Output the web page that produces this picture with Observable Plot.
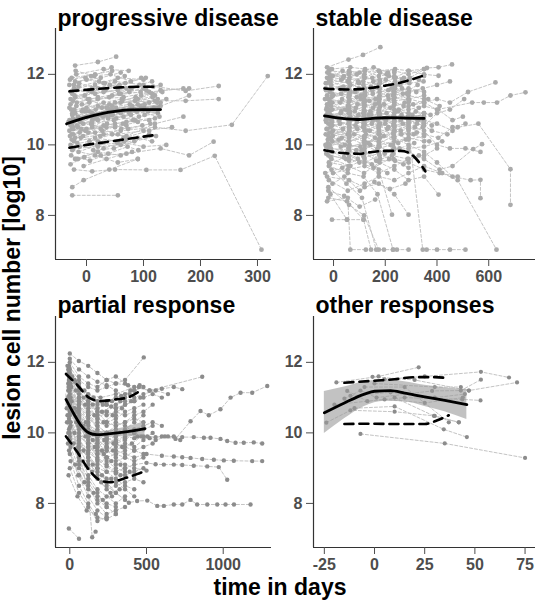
<!DOCTYPE html>
<html><head><meta charset="utf-8">
<script src="https://cdn.jsdelivr.net/npm/d3@7"></script>
<script src="https://cdn.jsdelivr.net/npm/@observablehq/plot@0.6"></script>
<style>
body{margin:0;background:#fff;}
#wrap{position:relative;width:540px;height:600px;overflow:hidden;font-family:"Liberation Sans",Arial,sans-serif;}
#wrap > svg{position:absolute;}
#wrap svg text{font-weight:bold;}
</style></head><body><div id="wrap"></div>
<script>
// ---------- data ----------
const titles = ["progressive disease","stable disease","partial response","other responses"];
const yLabel = "lesion cell number [log10]";
const xLabel = "time in days";
const yTicks = [8,10,12];
const pdTicks = [0,100,200,300];
const sdTicks = [0,200,400,600];
const prTicks = [0,500,1000];
const orTicks = [-25,0,25,50,75];

// trajectories: flat [t,y,t,y,...]
const pdTraj = [
[-25,8.57,55,8.57],[-25,8.8,-5,9.0,40,9.3,90,9.6],[-22,9.3,10,9.25,50,9.3,105,9.29,165,9.29,225,9.69,307,7.03],
[-20,12.25,20,12.35,52,12.5],[-18,12.0,30,12.15,74,12.1],[-28,11.3,10,11.5,50,11.8,100,11.7,174,11.53,232,11.67],
[-25,10.9,20,11.1,60,11.2,120,11.25,174,11.25,232,11.3],[-20,10.2,15,10.35,60,10.4,120,10.5,174,10.4,255,10.57,318,11.95],
[-15,9.6,25,9.7,70,9.75,130,9.9,180,9.7,223,10.09],[-30,10.7,0,10.8,40,11.0,80,11.1,130,11.2],
[-27,11.0,5,11.2,45,11.4,95,11.5],[-24,10.5,8,10.6,48,10.7,92,10.8,125,10.9],[-22,11.6,15,11.7,55,11.9,100,11.85],
[-26,10.3,10,10.5,50,10.6,85,10.7],[-20,11.8,25,11.9,60,12.05],[-28,10.0,5,10.1,45,10.3,90,10.2,115,10.1],
[-23,9.9,20,9.95,60,10.0,110,10.3],[-21,11.4,30,11.5,70,11.6,115,11.8],[-25,10.6,25,10.85,75,11.0,130,11.1,180,11.4],
[-18,11.1,20,11.3,65,11.35,110,11.5,170,11.6],[-30,10.4,0,10.45,35,10.5,70,10.55],[-15,10.8,30,10.9,80,11.05,125,11.3],
[-27,11.5,10,11.6,55,11.65],[-22,10.1,15,10.2,55,10.1,100,9.95,140,10.0],[-20,9.6,20,9.8,60,9.7],
[-26,11.9,15,12.0,45,12.1],[-24,10.75,5,10.95,40,11.15,85,11.25,120,11.4],[-12,10.35,30,10.55,70,10.65,110,10.7],
[-28,10.55,10,10.65,60,10.9,100,11.0],[-17,11.2,20,11.35,60,11.45,100,11.6,130,11.7],[-25,9.85,15,9.7,55,9.5,90,9.6],
[-20,10.9,15,10.75,55,10.95,95,11.1],[-22,11.0,0,11.05,30,11.2,62,11.3,110,11.2],[-15,10.5,25,10.45,55,10.3,100,10.4,150,10.5],
[-30,11.7,0,11.85,30,11.75],[-10,10.2,30,10.3,70,10.25,120,10.6,170,10.8],[-25,10.45,10,10.9,45,11.0,90,11.15,140,11.3],
[-20,10.7,10,10.55,50,10.5,90,10.65],[-28,11.15,5,11.3,40,11.35,75,11.5,115,11.45],[-23,10.3,20,10.1,70,10.15],
[-18,11.55,15,11.45,55,11.55,105,11.55],[-5,9.4,35,9.6,80,9.8],[-25,10.85,20,10.7,65,10.8,108,10.95],
[-20,11.35,45,11.1,90,11.3,130,11.55,180,11.6],[-12,9.95,25,10.05,65,10.2,110,10.4],
[-8,10.95,35,11.05,75,10.9,118,11.05],[-29,10.25,-2,10.4,38,10.75,78,10.85],[-14,11.65,22,11.8,58,11.7,96,11.9],
[-26,10.65,12,10.8,52,11.05,102,11.15],[-6,10.6,42,10.85,88,10.95,128,10.8],
[-29,11.85,8,11.95,42,12.0,78,11.8],[-16,10.05,12,9.85,48,9.9,84,10.1,122,10.25],[-24,11.25,-3,11.4,33,11.55,68,11.75,104,11.9],
[-11,10.65,18,10.8,52,10.75,88,10.95,126,11.05],[-27,9.7,6,9.55,38,9.75,72,9.95],[-19,12.1,14,11.95,44,12.2],
[-8,11.15,27,11.05,63,11.25,96,11.4,133,11.5],[-23,10.45,3,10.35,36,10.6,73,10.45,112,10.6],[-13,11.75,20,11.6,57,11.45,93,11.7],
[-28,9.45,-4,9.65,30,9.9,66,10.1],[-21,10.95,16,11.0,50,11.2,86,11.35,124,11.2],[-9,10.45,24,10.25,61,10.45,98,10.55],
[-25,11.45,2,11.3,37,11.05,76,11.15,116,11.35],[-17,10.55,10,10.7,46,10.85,82,10.7,120,10.75],[-2,11.9,32,11.75,67,11.95],
[-26,10.15,-6,10.25,28,10.4,64,10.6,102,10.85],[-14,9.8,19,10.0,54,10.05,91,9.85],[-22,11.7,5,11.55,41,11.7,79,11.6,117,11.65],
[-6,11.0,29,10.8,65,11.0,101,11.05],[-30,11.05,-1,10.95,34,10.85]
];
const sdTraj = [
[-20,10.6,60,10.5,120,10.7,178,10.6,232,10.8,290,10.7,350,10.9],[-5,11.2,62,11.3,118,11.1,175,11.2],
[-25,12.2,58,12.42,114,12.55,181,12.77],[-10,9.9,55,9.8,115,9.7,170,9.9,230,10.0],
[-30,11.6,65,11.7,120,11.6,180,11.8,240,11.7,295,11.9,361,12.18,406,12.2,458,12.28],
[-15,10.2,60,10.1,125,10.3,180,10.2,235,10.4,290,10.3,345,10.5,400,10.9,450,11.0,505,11.3],
[-8,9.3,50,8.9,110,8.5,165,7.03,230,7.03,290,7.03],[-20,8.5,52,8.4,116,7.88,145,7.03],[-6,7.88,52,7.88],
[-22,10.9,65,10.8,115,10.9,175,11.0,235,10.9,290,11.1,350,11.2,400,11.0,536,11.2,581,11.2,632,11.2,684,11.4,742,11.49],
[-12,11.9,60,12.0,120,11.9,175,12.1,235,12.1,290,12.0,350,12.15],
[-18,9.5,58,9.4,118,9.2,178,9.5,235,9.3,290,9.0,350,9.1,406,8.59],[-2,10.4,62,10.5,125,10.4,180,10.6],
[-28,11.0,55,11.1,118,11.3,175,11.2,230,11.4,290,11.5,345,11.6,400,11.7,450,11.8],
[-15,10.0,60,10.2,120,10.0,175,9.8,235,9.9],[-25,11.4,65,11.5,122,11.4,178,11.5,238,11.6,292,11.5],
[-8,10.7,58,10.6,115,10.5,170,10.7,232,10.6,288,10.8,348,10.6],[-20,9.7,60,9.6,120,9.8,180,9.6],
[-10,11.7,55,11.8,116,11.7],
[-30,10.3,62,10.4,120,10.2,175,10.4,235,10.2,290,10.0,350,9.8,400,9.5,460,9.1,530,9.0,568,9.01,568,8.49],
[-5,11.0,60,11.1,118,11.0,178,10.9,232,11.1,290,11.2],[-18,12.1,62,12.05,120,12.1,175,11.95,235,12.05],
[-25,9.1,60,9.0,120,8.8,175,8.9,235,8.6,290,8.02],
[-12,10.5,55,10.3,120,10.6,175,10.5,235,10.7,290,10.5,350,10.3,405,10.2,460,10.5,510,10.6],
[-22,11.3,58,11.2,118,11.3,178,11.4,232,11.3,290,11.4,350,11.3,410,11.1],
[-8,9.6,65,9.4,120,9.6,175,9.3,226,8.02],[-28,10.8,60,10.9,116,10.8,175,10.8,235,11.0,290,10.9,350,10.9],
[-15,11.5,62,11.4,120,11.6,178,11.6,238,11.8,295,11.85,350,11.95],
[-5,10.1,58,9.9,120,10.1,175,10.1,232,9.9,290,9.8,350,9.6,410,9.3,460,9.4,540,9.88,574,10.02],
[-20,8.8,60,8.3,118,8.0,175,7.03,195,7.03],[-10,11.1,55,11.0,118,11.2,175,11.3,235,11.2],
[-25,10.45,60,10.3,120,10.4,178,10.3,235,10.5,290,10.6,350,10.7,400,10.6,460,10.4],
[-15,12.0,62,11.9,122,12.1,180,12.05,240,11.9],
[-5,9.8,60,9.7,120,9.5,178,9.7,232,9.6,290,9.5,350,9.3,410,9.2,480,9.1],
[-30,10.7,60,10.75,118,10.6,175,10.9,235,10.8],
[-12,11.8,58,11.6,115,11.8,175,11.7,235,11.9,290,12.1,350,12.0,406,11.96],
[-22,10.15,62,10.0,120,9.9,175,10.0,235,10.1,290,10.2,350,10.1],[-8,11.35,60,11.45,122,11.5,178,11.3,232,11.5],
[-18,9.4,55,9.2,116,9.1,170,8.6,230,7.03,245,7.03],[-25,11.9,60,12.1,120,12.0],
[-5,10.55,62,10.65,118,10.75,175,10.55,235,10.4,290,10.55,350,10.4,400,10.0,450,9.9,510,9.9,568,9.8],
[-15,10.95,60,11.05,120,10.95,180,11.1,238,10.95,290,11.0,350,11.1,405,11.0,460,10.7,500,10.8],
[-28,9.95,58,10.1,118,10.2,175,10.3,232,10.2,290,10.4,345,7.03,360,7.03,400,7.03,450,7.03,510,7.03],
[-10,11.6,62,11.55,120,11.45,178,11.6,235,11.5,290,11.6,350,11.5],
[-20,10.25,60,10.45,118,10.55,175,10.45,232,10.3],
[-2,9.2,55,9.3,120,9.4,175,9.2,235,9.4,290,9.6,350,9.7,400,9.9],
[-25,11.15,62,11.25,120,11.15,178,11.05,235,11.25,290,11.3,350,11.4],
[-12,10.85,58,10.95,116,10.6,175,10.75,235,10.65,290,10.75,350,10.65],
[-30,11.75,60,11.85,120,11.9,178,11.85,235,11.95],
[-8,10.35,62,10.25,118,10.1,175,10.15,232,10.35,290,10.15,350,10.25],
[-18,9.0,55,8.7,120,8.9,175,9.1,235,9.0,290,9.2,350,9.4,420,9.2,480,9.0,630,7.03],
[-5,11.45,58,11.35,118,11.2,175,11.35,235,11.45,290,11.3,350,11.2,400,11.3,450,11.2,520,11.5,626,11.77],
[-22,10.05,60,9.95,120,10.05,178,9.95,232,9.75],[-15,11.25,62,10.9,120,11.1,175,10.95,235,11.15],
[-28,9.75,60,9.55,118,9.75,175,9.55,238,9.55,290,9.35],
[-10,12.15,65,12.2,122,12.15,175,12.1,238,12.15,290,12.1,350,12.15],
[-20,10.75,58,10.7,120,10.85,178,10.85,235,10.55,290,10.45,350,10.8],[-25,8.4,55,8.5,65,7.03,125,7.03],
[-6,10.65,60,10.6,118,10.5,175,10.35,232,10.55,290,10.65,350,10.55,380,10.4,440,10.3,480,10.5,560,10.6,684,9.31,684,8.3],
[-15,9.9,60,9.85,118,9.65,175,9.75,232,9.85,290,9.9,350,9.95,420,10.1],[-12,8.6,52,7.88,116,7.88],
[-26,11.05,64,10.95,121,11.25,177,11.15,236,11.35,292,11.25],[-3,10.25,59,10.35,119,10.25,176,10.05,234,10.25],
[-17,11.85,61,11.75,117,11.95,179,11.75,237,11.65,293,11.75,348,11.8],
[-33,11.3,30,11.45,90,11.35,150,11.55,210,11.4,265,11.6,320,11.5],[-27,10.45,25,10.6,85,10.55,140,10.4,200,10.6,260,10.4,315,10.5],
[-14,9.45,40,9.65,100,9.5,155,9.35,215,9.6,270,9.45,330,9.7],[-3,11.95,35,12.1,95,11.8,150,11.9,205,12.0,265,11.85],
[-31,10.0,20,10.15,80,10.3,135,10.05,195,10.25,250,10.05,310,10.3,370,10.1],
[-19,11.15,45,11.0,105,11.3,160,11.15,220,11.05,275,11.2,330,11.05],
[-7,10.8,30,10.95,90,10.65,145,10.85,205,10.9,260,10.7,318,10.95,375,10.85],
[-24,12.05,40,11.95,100,12.05,155,12.2,210,12.05],[-11,9.65,28,9.95,88,9.85,142,10.0,198,9.75,255,9.9,312,10.05],
[-29,11.55,38,11.65,98,11.75,152,11.45,212,11.55,268,11.45,325,11.7],
[-16,10.35,32,10.2,92,10.45,148,10.6,208,10.45,262,10.3,322,10.35],[-4,8.9,42,9.1,102,8.7,158,8.95,218,8.75,278,8.9],
[-21,11.0,26,11.2,86,11.05,138,11.25,196,11.15,252,11.0,308,11.15,366,11.3],
[-9,10.15,44,10.0,104,9.95,160,10.2,222,10.0,280,10.15],[-26,11.75,24,11.6,84,11.5,144,11.65,202,11.85,258,11.7],
[-13,10.6,36,10.45,96,10.85,152,10.7,212,10.5,268,10.6,326,10.7,380,10.55],[-32,9.2,34,9.35,94,9.6,148,9.45,208,9.2],
[-1,11.4,46,11.55,106,11.4,162,11.3,224,11.6,284,11.45],[-23,10.9,22,10.7,82,10.95,137,10.85,194,10.75,249,10.95,305,10.85],
[-17,9.85,48,9.6,108,9.85,165,9.55,226,9.7,286,9.6],[-6,12.15,30,11.85,90,12.0],
[-28,10.65,28,10.9,88,10.75,143,10.95,203,10.7,263,10.85,323,10.6],
[-12,11.85,38,11.9,98,11.6,154,11.8,214,11.95,272,11.9,330,11.85],[-20,8.7,41,8.55,101,8.25,161,8.45],
[-10,11.2,33,11.3,93,11.15,153,11.05,213,11.3,271,11.1]
];
const prTraj = [
[-10,11.8,60,11.0,120,10.5,180,10.2,240,10.0],[0,12.25,59,12.04,120,11.9,180,11.7,240,11.5,300,11.4,360,11.5,482,12.14],
[-6,7.29,60,7.0],[-15,10.5,59,9.5,124,8.2,146,7.04,168,7.2],
[-5,11.5,60,10.8,120,10.3,180,9.9,240,9.7,300,9.8,360,9.9,420,9.85,505,9.9,559,9.88,620,9.9,678,9.9,733,9.88,808,9.88,874,9.86,917,9.86,982,9.83,1026,9.77,1080,9.72,1134,9.72,1199,9.73,1254,9.7],
[0,10.8,60,9.9,120,9.2,180,8.8,240,8.5,300,8.3,385,8.02,439,8.07,505,8.08,570,7.93,613,7.93,678,7.97,733,7.97,787,8.1,830,7.97,896,7.97,961,7.97,1015,7.97,1070,7.97,1178,7.97],
[-10,11.2,55,10.7,120,10.2,180,9.8,240,9.6,300,9.5,360,9.4,420,9.3,500,9.4,600,9.35,678,9.33,733,9.31,787,9.29,863,9.26,939,9.24,1004,9.22,1069,9.21,1189,9.2,1254,9.2],
[5,10.2,60,9.6,120,9.3,180,9.0,240,8.9,300,8.9,360,9.0,420,9.1,500,9.15,559,9.11,613,9.1,678,9.1,733,9.09,808,9.07,896,9.05,971,9.03,1026,8.67],
[0,11.0,60,10.6,120,10.4,180,10.2,240,10.0,300,10.1,360,10.0,440,9.9,520,9.85,600,9.9,689,9.83,787,10.33,852,10.62,906,10.5,982,10.67,1048,11.0,1113,11.14,1189,11.14,1287,11.33],
[-5,11.9,60,11.5,120,11.3,180,11.2,240,11.3,300,11.4,380,11.35,450,11.3,520,11.2,600,11.25,678,11.3,733,11.24],
[0,11.6,60,11.3,120,11.1,200,11.0,300,11.1,420,11.3,520,11.2,863,11.59],
[-5,9.5,55,8.8,120,8.2,180,7.8,240,7.6],[0,10.0,60,9.1,120,8.5,180,8.0,240,7.7,300,7.8,360,7.9],
[-10,11.4,60,10.5,120,9.9,180,9.6,240,9.3,300,9.2,360,9.3,420,9.2,480,9.3],
[0,10.6,60,10.0,120,9.6,180,9.4,240,9.5,300,9.7,360,9.8,420,10.0,480,10.1,540,10.2],
[-8,11.7,60,11.2,120,10.8,180,10.6,240,10.5,300,10.6,360,10.5,420,10.6],
[5,9.2,60,8.5,120,8.0,180,7.6,240,7.55,300,7.7],
[0,11.3,58,10.4,120,9.7,180,9.3,240,9.1,300,8.9,360,8.8,420,8.9,480,9.0],
[-5,10.4,60,9.8,120,9.5,180,9.6,240,9.8,300,9.9,360,10.1,420,10.3,480,10.5],
[0,11.1,60,10.9,120,10.6,180,10.5,240,10.6,300,10.8,360,10.9,420,11.0,480,11.1,560,11.2,640,11.1],
[-10,10.9,55,10.2,120,9.8,180,9.5,240,9.3,300,9.1,360,9.0],
[0,9.8,60,9.3,120,9.0,180,8.7,240,8.4,300,8.5,360,8.6,420,8.7,480,8.6],
[-5,11.0,60,10.3,120,9.9,180,9.7,240,9.8,300,9.6,360,9.7,420,9.6,480,9.8,540,10.0],
[0,12.0,60,11.6,120,11.4,180,11.3,240,11.5,300,11.6,360,11.4,420,11.2],
[-8,10.7,60,10.1,120,9.6,180,9.2,240,8.9,300,8.7,360,8.5,420,8.4],
[0,9.0,60,8.3,120,7.9,180,7.5,240,7.6],
[-5,11.5,60,11.1,120,10.9,180,10.8,240,10.9,300,11.0,360,11.1,420,11.2,480,11.3],
[5,10.3,60,9.4,120,8.8,180,8.4,240,8.2,300,8.0,360,8.2],
[0,11.8,60,11.4,120,10.9,180,10.6,240,10.3,300,10.2,360,10.3,420,10.4,480,10.3],
[-5,10.1,55,9.6,120,9.1,180,8.9,240,8.7,300,8.6,360,8.4,420,8.2],
[0,11.2,60,10.7,120,10.5,180,10.3,240,10.2,300,10.3,360,10.2,420,10.0,480,9.9,560,9.8,640,9.9,720,9.8],
[-10,10.0,60,9.6,120,9.3,180,9.1,240,9.3,300,9.4,360,9.5],
[0,11.5,60,10.6,120,10.0,180,9.9,240,10.0,300,10.2,360,10.3,420,10.5,480,10.6,540,10.8],
[5,9.6,60,9.0,120,8.6,180,8.2,240,8.0,300,7.9],
[0,10.9,60,10.4,120,10.0,180,9.8,240,9.6,300,9.4,360,9.3,420,9.5,480,9.6,540,9.7],
[-5,11.6,60,11.3,120,11.0,180,10.9,240,10.8,300,10.7,360,10.8,420,10.9],
[0,10.5,60,9.8,120,9.4,180,9.0,240,8.6,300,8.3,360,8.1],
[-8,11.3,60,10.8,120,10.5,180,10.1,240,9.9,300,9.7,360,9.6,420,9.5,480,9.4],
[0,9.9,60,9.2,120,8.7,180,8.3,240,7.9,300,7.7],
[5,11.4,60,11.0,120,10.8,180,10.4,240,10.3,300,10.4,360,10.6,420,10.7,480,10.8],
[0,12.1,60,11.8,120,11.6,180,11.45,240,11.35,300,11.2,360,11.0],
[-5,10.3,60,9.9,120,9.7,180,9.5,240,9.2,300,9.0,360,8.9,420,8.8],
[0,10.8,60,10.3,120,9.7,180,9.4,240,9.6,300,9.9,360,10.0],
[-10,11.0,60,10.5,120,10.1,180,9.9,240,10.0,300,10.0,360,10.0,420,10.1,480,10.2,540,10.3,600,10.2],
[0,9.4,60,8.8,120,8.4,180,8.1,240,7.9],[0,11.7,60,11.0,120,10.6,180,10.4,240,10.6,300,10.5],
[5,10.6,60,10.2,120,9.9,180,9.7,240,9.5,300,9.3,360,9.1,420,9.0,500,8.93],
[-5,11.2,60,10.9,120,10.7,180,10.7,240,10.8,300,10.7,360,10.8,420,10.9,480,11.0,540,11.1,600,11.0],
[0,10.15,60,9.7,120,9.45,180,9.25,240,9.05,300,8.85],[-5,11.05,60,10.45,120,10.25,180,10.05,240,9.85,300,9.75,360,9.85],
[-15,11.9,30,11.5,90,11.0,150,10.8,210,10.6,270,10.75,330,10.9,390,11.1],
[-20,10.7,30,10.0,90,9.5,150,9.1,210,8.8,270,8.7,330,8.8,390,8.9],[10,11.3,30,10.7,90,10.2,150,9.8,210,9.5,270,9.2,330,9.1],
[-12,9.7,35,9.1,95,8.6,155,8.3,215,8.1,275,8.2],[15,11.6,40,11.2,100,10.8,160,10.5,220,10.3,280,10.5,340,10.7,400,10.9,460,11.0],
[-18,10.3,25,9.7,85,9.2,145,8.9,205,8.6,265,8.3,325,8.4],[5,11.0,45,10.6,105,10.3,165,10.0,225,9.8,285,9.7,345,9.6,405,9.7,465,9.9],
[-8,8.8,50,8.2,110,7.8,170,7.7],[12,10.9,42,10.3,102,9.9,162,9.6,222,9.4,282,9.5,342,9.6],
[-3,11.85,35,11.45,95,11.2,155,11.0,215,10.8,275,10.9,335,11.05,395,11.2,455,11.35]
];
const orTraj = [
[-19,11.43,2,11.6,22,11.86],[-24,10.29,-12,10.64,10,10.6,30,10.48,42,10.3],[-7,9.97,35,9.7,75,9.29],
[-15,10.97,-7,11.2,1,11.0,28.7,11.19,43,11.2,53,11.51],[-13.6,11.19,-3.6,10.9,15,11.0,43.7,10.95,52.8,10.92],
[5,11.52,25,11.6,53,11.73,67,11.57],[-1,11.59,20,11.5,47,11.2,71,11.43],[-10,10.7,10,10.75,34.5,10.1,46,9.88],
[-5,11.3,15,11.3,37,10.3],[10,11.0,29.6,10.48,42,10.3],[0,11.4,30,11.3,43,11.3,47,11.2],
[-12,11.05,8,11.15,30,11.0,45,11.1],[-20,10.8,5,10.95,25,10.85,44,11.0]
];

// smooth summaries: flat [t,y,...]; bands [t,lo,hi,...]
const pdMean  = [-35,10.6,0,10.78,25,10.88,50,10.95,75,10.99,100,11.0,130,11.0];
const pdUpper = [-30,11.52,0,11.56,30,11.6,60,11.63,90,11.65,120,11.65];
const pdLower = [-30,9.92,0,10.0,30,10.07,60,10.14,90,10.21,120,10.28];
const pdBand  = [-35,10.52,10.68,0,10.72,10.84,50,10.9,11.0,100,10.92,11.08,130,10.86,11.14];
const sdMean  = [-35,10.82,0,10.78,50,10.74,100,10.72,150,10.75,200,10.77,280,10.76,350,10.75];
const sdUpper = [-35,11.6,0,11.58,50,11.57,100,11.58,150,11.62,200,11.68,250,11.75,300,11.85,350,11.97];
const sdLower = [-35,9.85,0,9.8,50,9.76,100,9.75,150,9.8,200,9.83,260,9.83,290,9.78,320,9.6,355,9.25];
const sdBand  = [-35,10.76,10.88,100,10.68,10.76,250,10.72,10.81,350,10.66,10.84];
const prMean  = [-25,10.95,25,10.55,75,10.2,125,10.0,175,9.95,250,9.97,350,10.02,490,10.12];
const prUpper = [-25,11.67,50,11.35,125,11.0,200,10.9,300,10.95,375,11.0,450,11.17];
const prLower = [-25,9.9,50,9.45,125,8.95,200,8.65,260,8.6,350,8.7,450,8.85,500,8.93];
const prBand  = [-25,10.78,11.12,50,10.3,10.55,125,9.9,10.1,200,9.86,10.04,300,9.88,10.1,400,9.9,10.2,490,9.92,10.32];
const orMean  = [-25,10.57,-15,10.85,-5,11.1,0,11.18,8,11.2,15,11.13,25,11.02,35,10.92,46,10.8];
const orUpper = [-15,11.42,0,11.48,10,11.52,20,11.58,30,11.58,37,11.55];
const orLower = [-15,10.25,0,10.26,10,10.25,25,10.25,31,10.35,37,10.5];
const orBand  = [-25,9.98,11.17,-15,10.4,11.3,-5,10.75,11.45,5,10.9,11.5,15,10.88,11.45,25,10.75,11.35,35,10.6,11.28,46,10.38,11.22];

// ---------- helpers ----------
const FONT = '"Liberation Sans", Arial, sans-serif';
const YD = [6.75, 13.3];
const AX = "#333";
function toRows(traj){const r=[];traj.forEach((a,i)=>{for(let k=0;k<a.length;k+=2)r.push({id:i,t:a[k],y:a[k+1]});});return r;}
function pts(a){const r=[];for(let k=0;k<a.length;k+=2)r.push({t:a[k],y:a[k+1]});return r;}
function bnd(a){const r=[];for(let k=0;k<a.length;k+=3)r.push({t:a[k],lo:a[k+1],hi:a[k+2]});return r;}

function panel(o){
  const rows = toRows(o.traj);
  const marks = [
    Plot.line(rows,{x:"t",y:"y",z:"id",stroke:"#c4c4c4",strokeWidth:1,strokeDasharray:"3,2"}),
    Plot.dot(rows,{x:"t",y:"y",r:o.r,fill:o.dot,stroke:null}),
    Plot.areaY(bnd(o.band),{x:"t",y1:"lo",y2:"hi",fill:"#999",fillOpacity:0.6,curve:"monotone-x"}),
    Plot.line(pts(o.upper),{x:"t",y:"y",stroke:"#000",strokeWidth:2.6,strokeDasharray:"9,6",curve:"monotone-x"}),
    Plot.line(pts(o.lower),{x:"t",y:"y",stroke:"#000",strokeWidth:2.6,strokeDasharray:"9,6",curve:"monotone-x"}),
    Plot.line(pts(o.mean),{x:"t",y:"y",stroke:"#000",strokeWidth:2.8,curve:"monotone-x"}),
    Plot.ruleX([o.xd[0]],{stroke:AX,strokeWidth:1.2}),
    Plot.ruleY([YD[0]],{stroke:AX,strokeWidth:1.2}),
    Plot.axisX({ticks:o.xt,tickSize:7,tickPadding:4,tickFormat:d=>String(d),fontSize:16,color:"#4d4d4d",label:null}),
    Plot.axisY({ticks:yTicks,tickSize:7,tickPadding:4,tickFormat:d=>String(d),fontSize:16,color:"#4d4d4d",label:null}),
    Plot.text([o.title],{frameAnchor:"top-left",dx:2,dy:o.tdy,lineAnchor:"bottom",textAnchor:"start",fontSize:23,fill:"#000"})
  ];
  const svg = Plot.plot({
    width:o.w, height:300, marginLeft:o.ml, marginRight:o.mr, marginTop:o.mt, marginBottom:o.mb,
    x:{domain:o.xd, label:null}, y:{domain:YD, label:null},
    style:{fontFamily:FONT, background:"transparent", overflow:"visible"},
    marks
  });
  svg.style.left = o.left+"px"; svg.style.top = o.top+"px";
  return svg;
}

const wrap = document.getElementById("wrap");
wrap.appendChild(panel({title:titles[0],traj:pdTraj,dot:"#ababab",r:2.4,mean:pdMean,upper:pdUpper,lower:pdLower,band:pdBand,
  xd:[-54.4,324.6],xt:pdTicks,w:280,ml:55,mr:9,mt:28,mb:41,left:0,top:0,tdy:-3}));
wrap.appendChild(panel({title:titles[2],traj:prTraj,dot:"#8c8c8c",r:2.2,mean:prMean,upper:prUpper,lower:prLower,band:prBand,
  xd:[-93.2,1314.7],xt:prTicks,w:280,ml:55,mr:9,mt:36,mb:33,left:0,top:280,tdy:-4}));
wrap.appendChild(panel({title:titles[1],traj:sdTraj,dot:"#ababab",r:2.4,mean:sdMean,upper:sdUpper,lower:sdLower,band:sdBand,
  xd:[-77.4,780.8],xt:sdTicks,w:270,ml:43,mr:5,mt:28,mb:41,left:270,top:0,tdy:-3}));
wrap.appendChild(panel({title:titles[3],traj:orTraj,dot:"#8c8c8c",r:2.1,mean:orMean,upper:orUpper,lower:orLower,band:orBand,
  xd:[-30.4,80.2],xt:orTicks,w:270,ml:43,mr:5,mt:36,mb:33,left:270,top:280,tdy:-4}));

// shared axis titles
const ns = "http://www.w3.org/2000/svg";
const ov = document.createElementNS(ns,"svg");
ov.setAttribute("width",540); ov.setAttribute("height",600);
ov.style.left="0px"; ov.style.top="0px"; ov.style.pointerEvents="none";
function addText(s,x,y,rot){
  const t=document.createElementNS(ns,"text");
  t.textContent=s; t.setAttribute("text-anchor","middle");
  t.setAttribute("font-family",FONT); t.setAttribute("font-size","23"); t.setAttribute("font-weight","bold");
  t.setAttribute("transform",`translate(${x},${y})`+(rot?` rotate(${rot})`:""));
  ov.appendChild(t);
}
addText(yLabel,20,298,-90);
addText(xLabel,280,595,0);
wrap.appendChild(ov);
</script></body></html>
